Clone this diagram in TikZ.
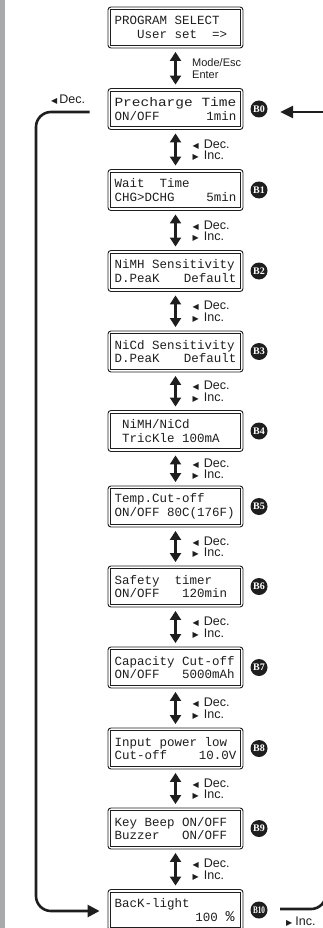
\documentclass[tikz,border=0pt]{standalone}
\usepackage{fontspec}
\setmainfont{Liberation Sans}
\newfontfamily\lcdfont{Liberation Mono}
\newfontfamily\symfont{DejaVu Sans}
\newfontfamily\badgefont{Liberation Serif}
\usetikzlibrary{arrows.meta,calc}
\definecolor{barg}{RGB}{168,170,173}
\definecolor{ink}{RGB}{30,30,30}

\newcommand{\lcdl}[1]{\makebox[122pt][l]{#1}}
\newcommand{\ltri}{{\symfont\fontsize{8}{8}\selectfont ◀}\hspace{5pt}}
\newcommand{\rtri}{{\symfont\fontsize{8}{8}\selectfont ▶}\hspace{5pt}}

\tikzset{
  lcdbox/.style={draw=ink, line width=0.9pt, rounded corners=3pt, minimum width=135pt,
    minimum height=41pt, inner sep=0pt, align=left,
    font=\lcdfont\fontsize{12.5}{13.5}\selectfont, text=ink},
  innerframe/.style={draw=ink, line width=1.3pt},
  badge/.style={circle, fill=ink, text=white, minimum size=17pt, inner sep=0pt,
    font=\badgefont\bfseries\fontsize{10}{10}\selectfont},
  dblarrow/.style={draw=ink, line width=2.6pt,
    {Triangle[width=11pt,length=9pt]}-{Triangle[width=11pt,length=9pt]},
    shorten <=3.5pt, shorten >=3.5pt},
  loopline/.style={draw=ink, line width=2.6pt},
  keylbl/.style={anchor=west, align=left, inner sep=0pt, text=ink,
    font=\fontsize{12.5}{11.5}\selectfont},
}

\newcommand{\lcd}[4]{%
  \node[lcdbox] (#1) at (175.5,-#2) {\lcdl{#3}\\\lcdl{#4}};
  \draw[innerframe] ([shift={(3.2pt,-3.2pt)}]#1.north west) rectangle ([shift={(-3.2pt,3.2pt)}]#1.south east);
}
\newcommand{\bdg}[3]{\node[badge] (#1) at (259,-#2) {#3};}
\newcommand{\decinc}[3]{%
  \draw[dblarrow] (#2.south) -- (#3.north);
  \node[keylbl] (#1) at ($(#2.south)!0.5!(#3.north)+(17pt,-0.5pt)$) {\ltri Dec.\\\rtri Inc.};
}

\begin{document}
\begin{tikzpicture}[x=1pt,y=1pt]
\useasboundingbox (0,0) rectangle (322,-928);
\fill[barg] (0,0) rectangle (5,-928);

\lcd{top}{27.5}{PROGRAM SELECT}{~~~User set~~=>}
\lcd{b0}{109}{\scalebox{1.16}[1]{Precharge Time}}{ON/OFF\hfill 1min}
\lcd{b1}{190}{Wait~~Time}{CHG>DCHG\hfill 5min}
\lcd{b2}{271}{NiMH Sensitivity}{D.PeaK\hfill Default}
\lcd{b3}{351.5}{NiCd Sensitivity}{D.PeaK\hfill Default}
\lcd{b4}{431}{~NiMH/NiCd}{~TricKle 100mA}
\lcd{b5}{506.5}{Temp.Cut-off}{ON/OFF 80C(176F)}
\lcd{b6}{586.5}{Safety~~timer}{ON/OFF~~~120min}
\lcd{b7}{667.5}{Capacity Cut-off}{ON/OFF~~~5000mAh}
\lcd{b8}{748.5}{Input power low}{Cut-off\hfill 10.0V}
\lcd{b9}{828.5}{Key Beep ON/OFF}{Buzzer~~~ON/OFF}
\lcd{b10}{910}{BacK-light}{\hfill 100 {\fontsize{15}{15}\selectfont\%}\hspace{2pt}}

\bdg{n0}{109}{B0}
\bdg{n1}{190}{B1}
\bdg{n2}{271}{B2}
\bdg{n3}{351.5}{B3}
\bdg{n4}{431}{B4}
\bdg{n5}{506.5}{B5}
\bdg{n6}{586.5}{B6}
\bdg{n7}{667.5}{B7}
\bdg{n8}{748.5}{B8}
\bdg{n9}{828.5}{B9}
\bdg{n10}{910}{\scalebox{0.72}[1]{B10}}

% Mode/Esc arrow
\draw[dblarrow] (top.south) -- (b0.north);
\node[keylbl, font=\fontsize{11}{12}\selectfont] (kme) at ($(top.south)!0.5!(b0.north)+(16.5pt,0)$) {Mode/Esc\\Enter};

\decinc{k1}{b0}{b1}
\decinc{k2}{b1}{b2}
\decinc{k3}{b2}{b3}
\decinc{k4}{b3}{b4}
\decinc{k5}{b4}{b5}
\decinc{k6}{b5}{b6}
\decinc{k7}{b6}{b7}
\decinc{k8}{b7}{b8}
\decinc{k9}{b8}{b9}
\decinc{k10}{b9}{b10}

% left loop (Dec. from B0 to B10)
\coordinate (lbend) at (36,-500);
\draw[loopline, rounded corners=15pt, -{Triangle[width=12pt,length=12pt]}]
  ([xshift=-18pt,yshift=-3pt]b0.west) -| (lbend) |- ([xshift=-8pt,yshift=-1pt]b10.west);
\node[keylbl] (ldec) at (51,-100) {{\symfont\fontsize{8}{8}\selectfont ◀}\hspace{2pt}Dec.};

% right loop (Inc. from B10 to B0)
\coordinate (rin) at (323,-112);
\draw[loopline, -{Triangle[width=12pt,length=13pt]}] (rin) -- ([xshift=12.5pt,yshift=-3pt]n0.east);
\coordinate (rout) at (326,-850);
\draw[loopline, rounded corners=15pt] ([xshift=12.5pt,yshift=1pt]n10.east) -| (rout);
\node[keylbl] (linc) at (286,-922) {{\symfont\fontsize{8}{8}\selectfont ▶}\hspace{3pt}Inc.};
\end{tikzpicture}
\end{document}
